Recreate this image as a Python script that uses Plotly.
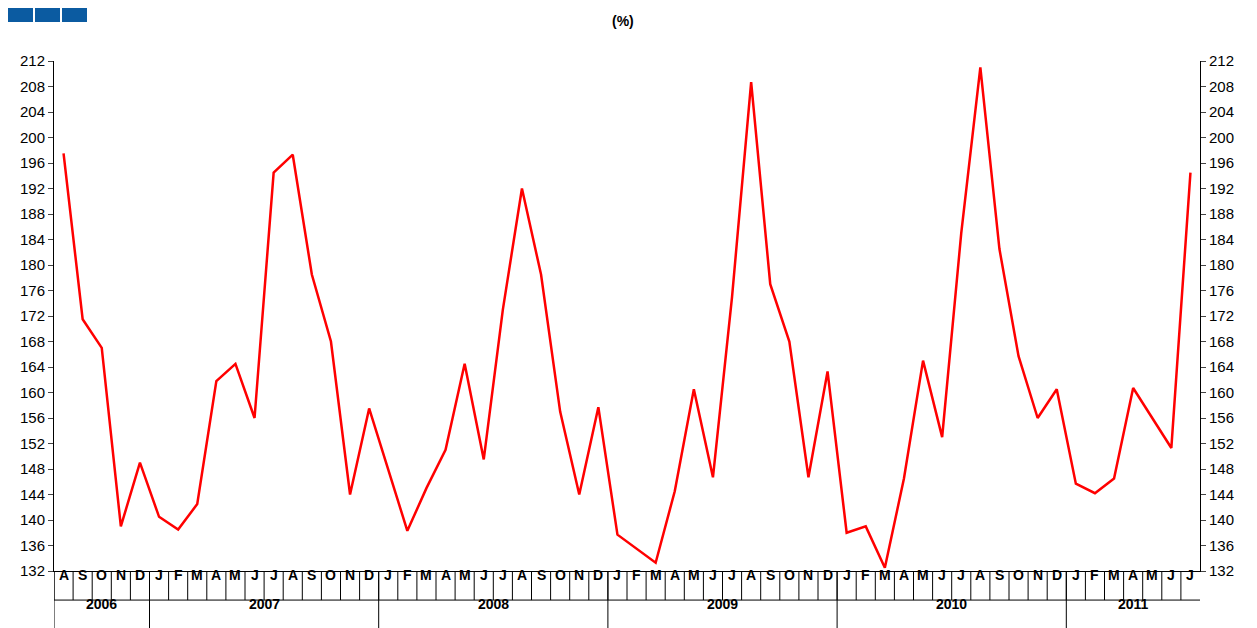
import plotly.graph_objects as go

months = ["A", "S", "O", "N", "D"] + ["J", "F", "M", "A", "M", "J", "J", "A", "S", "O", "N", "D"] * 4 + ["J", "F", "M", "A", "M", "J", "J"]
years = ["2006", "2007", "2008", "2009", "2010", "2011"]
year_counts = [5, 12, 12, 12, 12, 7]
values = [197.5, 171.5, 167, 139, 149,
          140.5, 138.5, 142.5, 161.8, 164.5, 156, 194.5, 197.3, 178.5, 168, 144, 157.5,
          148, 138.3, 145, 151, 164.5, 149.5, 173, 192, 178.5, 157, 144, 157.7,
          137.7, 135.5, 133.3, 144.5, 160.5, 146.7, 175, 208.7, 177, 168, 146.7, 163.3,
          138, 139, 132.5, 146.5, 165, 153, 185, 211, 182.5, 165.7, 156, 160.5,
          145.7, 144.2, 146.5, 160.7, 156, 151.3, 194.5]

x = list(range(len(values)))
fig = go.Figure()
fig.add_trace(go.Scatter(x=x, y=values, mode="lines", line=dict(color="#ff0000", width=2.5), yaxis="y"))
fig.add_trace(go.Scatter(x=x, y=values, mode="lines", line=dict(width=0), yaxis="y2", hoverinfo="skip"))

ticks = list(range(132, 213, 4))
yax = dict(range=[132, 212], tickvals=ticks, ticks="outside", ticklen=5, showgrid=False,
           showline=True, linecolor="black", linewidth=1, tickfont=dict(size=15, color="black", family="Liberation Sans"))
fig.update_layout(
    width=1249, height=620, plot_bgcolor="white", paper_bgcolor="white", showlegend=False,
    margin=dict(l=46, r=57, t=53, b=57),
    xaxis=dict(range=[-0.5, len(values) - 0.5], showticklabels=False, ticks="", showgrid=False,
               showline=True, linecolor="black", linewidth=1, zeroline=False),
    yaxis=yax,
    yaxis2=dict(yax, overlaying="y", side="right"),
)

shapes = []
ann = []
# month cells
for i, m in enumerate(months):
    ann.append(dict(x=i, y=-0.028, xref="x", yref="paper", text="<b>%s</b>" % m, showarrow=False,
                    font=dict(size=14, color="black", family="Liberation Sans")))
    shapes.append(dict(type="line", xref="x", yref="paper", x0=i - 0.5, x1=i - 0.5, y0=0, y1=-0.057,
                       line=dict(color="black", width=1)))
# year cells
start = 0
for y, c in zip(years, year_counts):
    ann.append(dict(x=start + (c - 1) / 2, y=-0.085, xref="x", yref="paper", text="<b>%s</b>" % y,
                    showarrow=False, font=dict(size=14, color="black", family="Liberation Sans")))
    shapes.append(dict(type="line", xref="x", yref="paper", x0=start - 0.5, x1=start - 0.5, y0=0, y1=-0.115,
                       line=dict(color="black", width=1)))
    start += c
shapes.append(dict(type="line", xref="x", yref="paper", x0=-0.5, x1=len(values) - 0.5, y0=-0.057, y1=-0.057,
                   line=dict(color="black", width=1)))
# logo squares
for k in range(3):
    shapes.append(dict(type="rect", xref="paper", yref="paper", x0=(8 + 27 * k - 54) / 1146, x1=(33 + 27 * k - 54) / 1146,
                       y0=1 + 39 / 510, y1=1 + 55 / 510, fillcolor="#0b5ba1", line=dict(width=0)))
ann.append(dict(x=(623 - 54) / 1146, y=1 + 50 / 510, xref="paper", yref="paper", text="<b>(%)</b>",
                showarrow=False, font=dict(size=14, color="black", family="Liberation Sans")))
fig.update_layout(shapes=shapes, annotations=ann)
fig.write_html("out.html")
